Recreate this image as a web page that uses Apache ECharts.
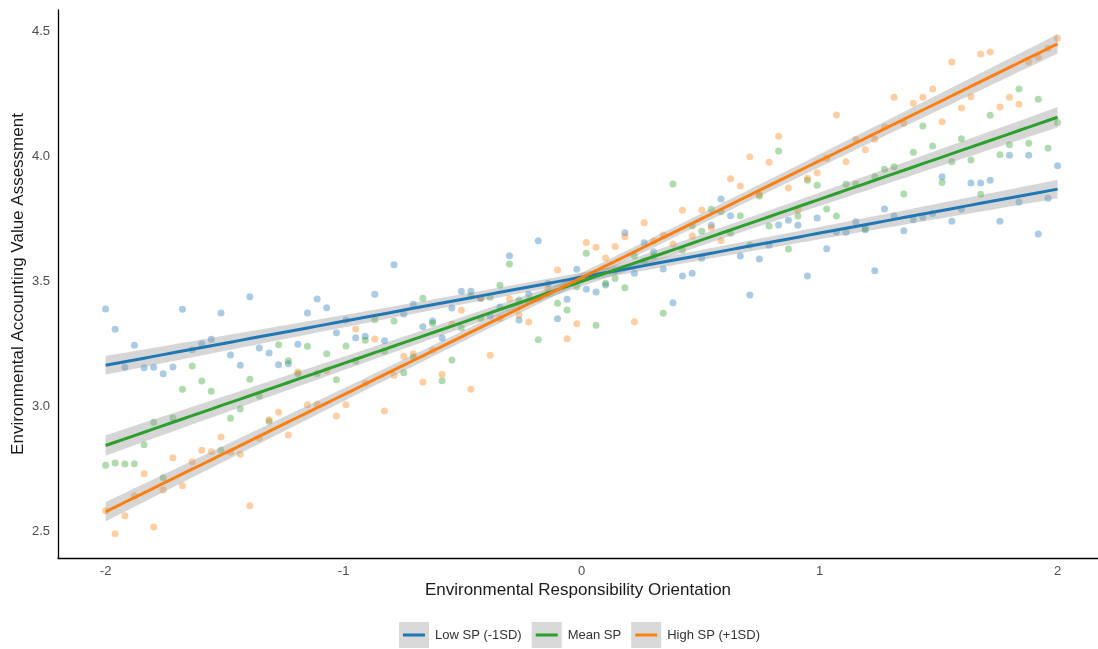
<!DOCTYPE html>
<html>
<head>
<meta charset="utf-8">
<script src="https://cdn.jsdelivr.net/npm/echarts@6/dist/echarts.min.js"></script>
<style>
html,body{margin:0;padding:0;background:#fff;}
#chart{width:1098px;height:649px;}
</style>
</head>
<body>
<div id="chart"></div>
<script>
// Environmental Responsibility Orientation (x positions of the observations)
const xs = [-2.000,-1.960,-1.919,-1.879,-1.838,-1.798,-1.758,-1.717,-1.677,-1.636,
-1.596,-1.556,-1.515,-1.475,-1.434,-1.394,-1.354,-1.313,-1.273,-1.232,
-1.192,-1.152,-1.111,-1.071,-1.030,-0.990,-0.949,-0.909,-0.869,-0.828,
-0.788,-0.747,-0.707,-0.667,-0.626,-0.586,-0.545,-0.505,-0.465,-0.424,
-0.384,-0.343,-0.303,-0.263,-0.222,-0.182,-0.141,-0.101,-0.061,-0.020,
0.020,0.061,0.101,0.141,0.182,0.222,0.263,0.303,0.343,0.384,
0.424,0.465,0.505,0.545,0.586,0.626,0.667,0.707,0.747,0.788,
0.828,0.869,0.909,0.949,0.990,1.030,1.071,1.111,1.152,1.192,
1.232,1.273,1.313,1.354,1.394,1.434,1.475,1.515,1.556,1.596,
1.636,1.677,1.717,1.758,1.798,1.838,1.879,1.919,1.960,2.000];

// Environmental Accounting Value Assessment, per moderator level
const lowSP = [3.388,3.307,3.155,3.243,3.153,3.155,3.129,3.156,3.387,3.225,
3.249,3.267,3.372,3.204,3.163,3.437,3.232,3.212,3.165,3.169,
3.247,3.372,3.428,3.393,3.293,3.344,3.273,3.279,3.447,3.261,
3.565,3.368,3.407,3.317,3.340,3.272,3.392,3.459,3.459,3.430,
3.360,3.396,3.601,3.344,3.447,3.661,3.490,3.349,3.427,3.547,
3.467,3.456,3.484,3.540,3.693,3.531,3.653,3.617,3.548,3.413,
3.520,3.531,3.591,3.723,3.828,3.761,3.600,3.444,3.588,3.643,
3.724,3.743,3.723,3.520,3.752,3.629,3.696,3.695,3.737,3.705,
3.541,3.788,3.760,3.701,3.745,3.755,3.770,3.917,3.739,3.787,
3.892,3.892,3.903,3.739,4.003,3.816,4.003,3.688,3.831,3.961];

const meanSP = [2.763,2.772,2.768,2.769,2.845,2.935,2.713,2.952,3.067,3.160,
3.100,3.059,2.823,2.951,2.988,3.107,3.040,2.939,3.245,3.181,
3.129,3.239,3.130,3.209,3.105,3.240,3.180,3.263,3.345,3.220,
3.340,3.133,3.196,3.431,3.331,3.101,3.184,3.312,3.440,3.351,
3.435,3.483,3.568,3.424,3.420,3.265,3.450,3.411,3.384,3.477,
3.611,3.323,3.491,3.510,3.473,3.600,3.580,3.600,3.371,3.888,
3.624,3.721,3.699,3.787,3.777,3.691,3.761,3.644,3.840,3.720,
4.020,3.628,3.760,3.903,3.883,3.788,3.760,3.887,3.888,3.710,
3.917,3.947,3.957,3.848,4.015,4.120,4.040,3.894,3.977,4.069,
3.984,3.847,4.163,4.005,4.045,4.268,4.051,4.227,4.031,4.134];

const highSP = [2.581,2.489,2.561,2.641,2.729,2.516,2.664,2.793,2.681,2.777,
2.823,2.817,2.876,2.816,2.807,2.601,2.872,2.945,2.975,2.884,
3.136,3.005,3.007,3.141,2.960,3.005,3.308,3.091,3.268,2.980,
3.123,3.199,3.209,3.096,3.224,3.127,3.328,3.383,3.067,3.431,
3.203,3.350,3.429,3.364,3.336,3.430,3.468,3.544,3.269,3.329,
3.654,3.635,3.592,3.638,3.677,3.337,3.733,3.660,3.684,3.648,
3.783,3.680,3.784,3.713,3.661,3.909,3.880,3.997,3.846,3.975,
4.079,3.872,3.784,3.911,3.933,3.991,4.164,3.977,4.067,4.025,
4.067,4.117,4.235,4.131,4.211,4.235,4.268,4.137,4.376,4.192,
4.237,4.408,4.416,4.196,4.235,4.207,4.376,4.395,4.431,4.471];

const seriesNames = ['Low SP (-1SD)', 'Mean SP', 'High SP (+1SD)'];
const xTicks = [-2, -1, 0, 1, 2];
const yTicks = [2.5, 3.0, 3.5, 4.0, 4.5];

const colors = ['#1f77b4', '#2ca02c', '#ff7f0e'];
const groups = [lowSP, meanSP, highSP];

// ordinary least squares fit with 95% confidence band
function lmFit(x, y) {
  const n = x.length;
  let mx = 0, my = 0;
  for (let i = 0; i < n; i++) { mx += x[i]; my += y[i]; }
  mx /= n; my /= n;
  let sxx = 0, sxy = 0;
  for (let i = 0; i < n; i++) { sxx += (x[i]-mx)*(x[i]-mx); sxy += (x[i]-mx)*(y[i]-my); }
  const b = sxy / sxx, a = my - b * mx;
  let sse = 0;
  for (let i = 0; i < n; i++) { const r = y[i] - (a + b*x[i]); sse += r*r; }
  const s = Math.sqrt(sse / (n - 2));
  const t = 1.9845;
  const line = [], lower = [], upper = [];
  for (let i = 0; i < n; i++) {
    const yh = a + b * x[i];
    const se = s * Math.sqrt(1/n + (x[i]-mx)*(x[i]-mx)/sxx);
    line.push([x[i], yh]);
    lower.push([x[i], yh - t*se]);
    upper.push([x[i], yh + t*se]);
  }
  return {line, lower, upper};
}

const fits = groups.map(g => lmFit(xs, g));

const series = [];
groups.forEach((g, k) => {
  series.push({
    name: seriesNames[k] + ' obs',
    type: 'scatter',
    data: xs.map((x, i) => [x, g[i]]),
    symbolSize: 7,
    itemStyle: {color: colors[k], opacity: 0.38},
    z: 2,
    silent: true
  });
});
fits.forEach((f, k) => {
  series.push({
    name: seriesNames[k] + ' band',
    type: 'custom',
    data: [[0, 0]],
    z: 3,
    silent: true,
    renderItem: function (params, api) {
      const pts = [];
      f.upper.forEach(p => pts.push(api.coord(p)));
      for (let i = f.lower.length - 1; i >= 0; i--) pts.push(api.coord(f.lower[i]));
      return {type: 'polygon', shape: {points: pts}, style: {fill: 'rgba(153,153,153,0.4)'}};
    }
  });
});
fits.forEach((f, k) => {
  series.push({
    name: seriesNames[k],
    type: 'line',
    data: f.line,
    showSymbol: false,
    lineStyle: {color: colors[k], width: 3},
    itemStyle: {color: colors[k]},
    z: 4,
    silent: true
  });
});

const legendCommon = {
  left: 394,
  top: 617,
  padding: 5,
  itemWidth: 30,
  itemHeight: 26,
  itemGap: 10,
  selectedMode: false,
  textStyle: {fontFamily: 'Liberation Sans', fontSize: 13, padding: [0, 0, 0, 1]}
};
const lineIcon = 'path://M0,0 M30,26 M4,11.5 L26,11.5 L26,14.5 L4,14.5 Z';

const option = {
  backgroundColor: '#ffffff',
  animation: false,
  grid: {left: 58, right: 0, top: 10, bottom: 91, outerBoundsMode: 'none', containLabel: false},
  xAxis: {
    type: 'value',
    min: -2.2,
    max: 2.17,
    name: 'Environmental Responsibility Orientation',
    nameLocation: 'middle',
    nameGap: 24,
    nameMoveOverlap: false,
    nameTextStyle: {fontFamily: 'Liberation Sans', fontSize: 17, color: '#1a1a1a'},
    axisLine: {show: true, onZero: false, lineStyle: {color: '#000', width: 1.3}},
    axisTick: {show: false},
    splitLine: {show: false},
    axisLabel: {
      customValues: xTicks,
      formatter: v => String(Math.round(v)),
      margin: 7,
      fontFamily: 'Liberation Sans', fontSize: 13, color: '#4d4d4d'
    }
  },
  yAxis: {
    type: 'value',
    min: 2.392,
    max: 4.584,
    name: 'Environmental Accounting Value Assessment',
    nameLocation: 'middle',
    nameGap: 31,
    nameMoveOverlap: false,
    nameTextStyle: {fontFamily: 'Liberation Sans', fontSize: 17, color: '#1a1a1a'},
    axisLine: {show: true, onZero: false, lineStyle: {color: '#000', width: 1.3}},
    axisTick: {show: false},
    splitLine: {show: false},
    axisLabel: {
      customValues: yTicks,
      formatter: v => v.toFixed(1),
      margin: 8,
      fontFamily: 'Liberation Sans', fontSize: 13, color: '#4d4d4d'
    }
  },
  legend: [
    Object.assign({}, legendCommon, {
      data: seriesNames.map(n => ({name: n, icon: 'rect', itemStyle: {color: '#d9d9d9'}})),
      textStyle: Object.assign({}, legendCommon.textStyle, {color: '#333'})
    }),
    Object.assign({}, legendCommon, {
      z: 10,
      data: seriesNames.map((n, k) => ({name: n, icon: lineIcon, itemStyle: {color: colors[k]}})),
      textStyle: Object.assign({}, legendCommon.textStyle, {color: 'rgba(0,0,0,0)'})
    })
  ],
  series: series
};

const chart = echarts.init(document.getElementById('chart'), null, {renderer: 'canvas'});
chart.setOption(option);
</script>
</body>
</html>
